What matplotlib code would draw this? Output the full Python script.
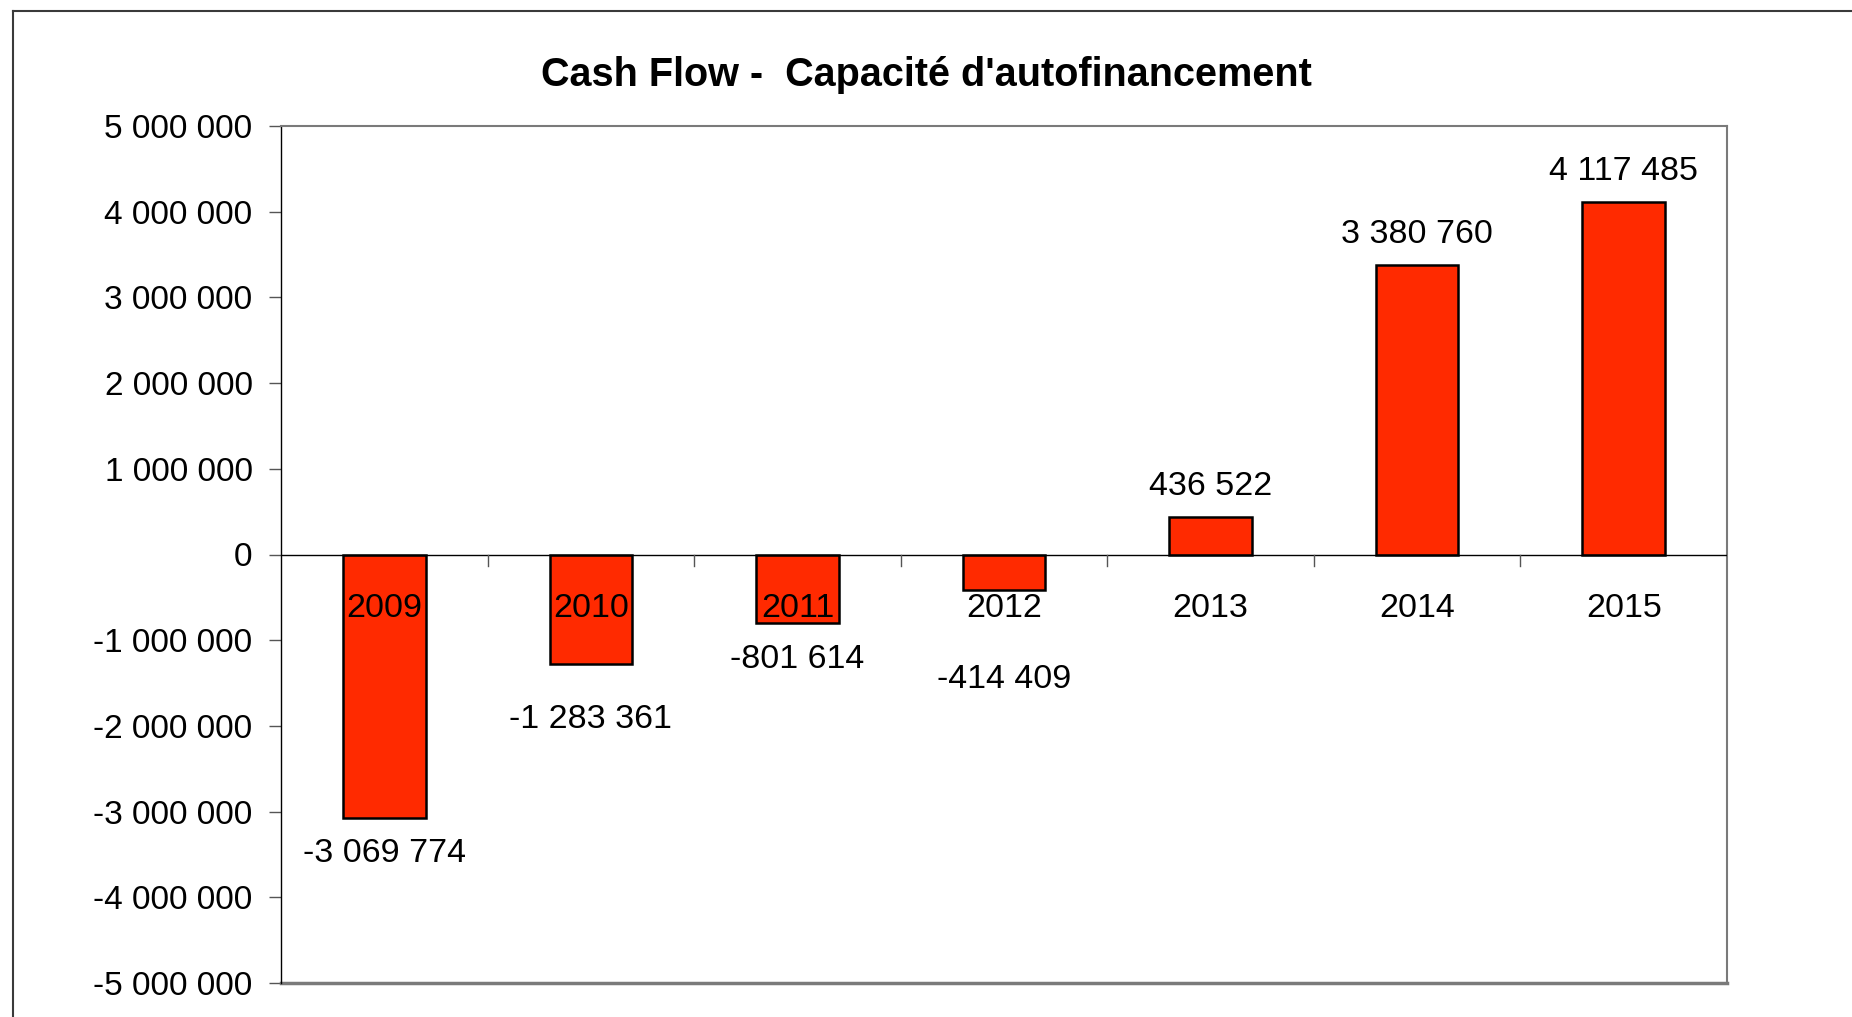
import matplotlib.pyplot as plt
from matplotlib.ticker import FuncFormatter
from matplotlib.lines import Line2D

plt.rcParams['font.family'] = ['Liberation Sans', 'DejaVu Sans']

# data
years = ["2009", "2010", "2011", "2012", "2013", "2014", "2015"]
cash_flow = [-3069774, -1283361, -801614, -414409, 436522, 3380760, 4117485]
y_ticks = [-5000000, -4000000, -3000000, -2000000, -1000000, 0,
           1000000, 2000000, 3000000, 4000000, 5000000]

# label offsets (points) from bar end, labels were hand placed in the original
label_offsets = [-26, -39.5, -26, -64.5, 22, 22, 22]


def fmt(v):
    # french style thousands separator
    return "{:,}".format(int(v)).replace(",", " ")


fig = plt.figure(figsize=(18.52, 10.17), dpi=100)
fig.patch.set_facecolor("white")

# outer chart frame (only left and top show in the picture)
fx = 13 / 1852
fy = 1 - 11 / 1017
fig.add_artist(Line2D([fx, fx], [0, fy], transform=fig.transFigure, color="#3a3a3a", lw=1.5))
fig.add_artist(Line2D([fx, 1], [fy, fy], transform=fig.transFigure, color="#3a3a3a", lw=1.5))

ax = fig.add_axes([281 / 1852, 1 - 983 / 1017, (1727 - 281) / 1852, (983 - 126) / 1017])

x = list(range(len(years)))
ax.bar(x, cash_flow, width=0.40, color="#ff2a00", edgecolor="black", linewidth=1.8, zorder=2)

ax.set_xlim(-0.5, len(years) - 0.5)
ax.set_ylim(-5000000, 5000000)
ax.set_yticks(y_ticks)
ax.yaxis.set_major_formatter(FuncFormatter(lambda v, p: fmt(v)))
ax.tick_params(axis="y", direction="out", length=9, width=1, pad=11.5, labelsize=24,
               color="#555555")

# x axis sits on zero, ticks between categories
ax.spines["bottom"].set_visible(False)
ax.axhline(0, color="black", lw=1, zorder=3)
for b in [i + 0.5 for i in x[:-1]]:
    ax.plot([b, b], [0, -130000], color="#555555", lw=1, zorder=3, clip_on=False)
ax.set_xticks([])

for sp in ["top", "right"]:
    ax.spines[sp].set_color("#7a7a7a")
    ax.spines[sp].set_linewidth(1.5)
ax.spines["left"].set_color("black")
ax.spines["left"].set_linewidth(1)
# bottom frame line
ax.plot([0, 1], [0, 0], transform=ax.transAxes, color="#7a7a7a", lw=2.5, clip_on=False)

for i, (yr, v) in enumerate(zip(years, cash_flow)):
    ax.annotate(yr, (i, 0), xytext=(0, -28), textcoords="offset points",
                ha="center", va="top", fontsize=24.5, zorder=4)
    ax.annotate(fmt(v), (i, v), xytext=(0, label_offsets[i]), textcoords="offset points",
                ha="center", va="center", fontsize=24.5, zorder=4)

fig.text(0.5, 1 - 75 / 1017, "Cash Flow -  Capacité d'autofinancement",
         ha="center", va="center", fontsize=28.5, fontweight="bold")

fig.savefig("out.png", dpi=100)
